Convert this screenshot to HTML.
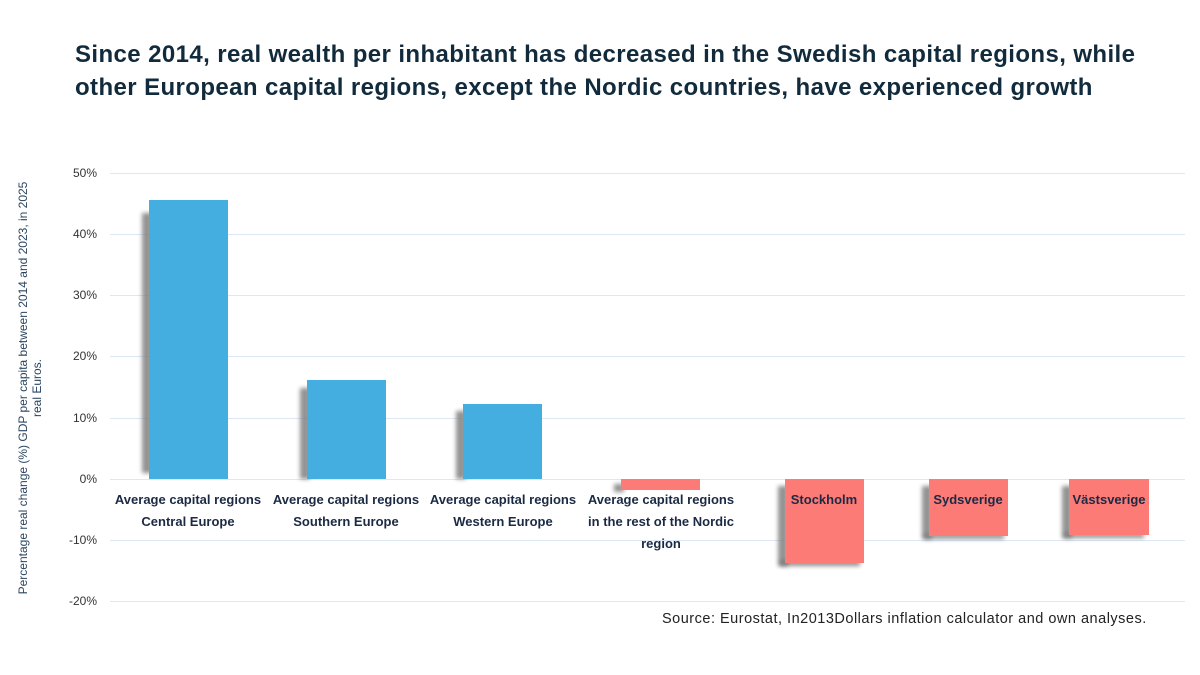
<!DOCTYPE html>
<html><head><meta charset="utf-8"><style>
body{margin:0;width:1200px;height:675px;background:#fff;position:relative;overflow:hidden;font-family:"Liberation Sans",sans-serif}
.t{position:absolute;left:75px;top:38px;font-size:24px;font-weight:bold;color:#112b3c;line-height:33px;letter-spacing:0.4px}
.g{position:absolute;left:110px;width:1075px;height:1px;background:#dce8f6}
.yl{position:absolute;width:60px;left:37px;text-align:right;font-size:12px;color:#333}
.b{position:absolute}
.s{position:absolute;background:#777;filter:blur(2px);opacity:.8}
.lb{position:absolute;width:170px;text-align:center;font-size:13px;font-weight:bold;color:#1b2a44;line-height:22px}
</style></head><body>
<div class="t">Since 2014, real wealth per inhabitant has decreased in the Swedish capital regions, while<br>other European capital regions, except the Nordic countries, have experienced growth</div>
<div class="g" style="top:173px"></div><div class="g" style="top:234px"></div><div class="g" style="top:295px"></div><div class="g" style="top:356px"></div><div class="g" style="top:418px"></div><div class="g" style="top:479px"></div><div class="g" style="top:540px"></div><div class="g" style="top:601px"></div>
<div class="yl" style="top:166px">50%</div><div class="yl" style="top:227px">40%</div><div class="yl" style="top:288px">30%</div><div class="yl" style="top:349px">20%</div><div class="yl" style="top:411px">10%</div><div class="yl" style="top:472px">0%</div><div class="yl" style="top:533px">-10%</div><div class="yl" style="top:594px">-20%</div>
<div style="position:absolute;left:30px;top:388px;width:480px;transform:translate(-50%,-50%) rotate(-90deg);text-align:center;font-size:12px;color:#2b4560;line-height:14px">Percentage real change (%) GDP per capita between 2014 and 2023, in 2025<br>real Euros.</div>
<div class="s" style="left:142px;top:213px;width:10px;height:260px"></div>
<div class="b" style="left:149px;top:200px;width:79px;height:279px;background:#45aee0"></div>
<div class="s" style="left:300px;top:388px;width:10px;height:91px"></div>
<div class="b" style="left:307px;top:380px;width:79px;height:99px;background:#45aee0"></div>
<div class="s" style="left:456px;top:411px;width:10px;height:68px"></div>
<div class="b" style="left:463px;top:404px;width:79px;height:75px;background:#45aee0"></div>
<div class="s" style="left:614px;top:484px;width:10px;height:8px"></div>
<div class="b" style="left:621px;top:479px;width:79px;height:11px;background:#fd7b76"></div>
<div class="s" style="left:778px;top:486px;width:10px;height:80px"></div><div class="s" style="left:780px;top:560px;width:80px;height:6px"></div>
<div class="b" style="left:785px;top:479px;width:79px;height:84px;background:#fd7b76"></div>
<div class="s" style="left:922px;top:486px;width:10px;height:53px"></div><div class="s" style="left:924px;top:534px;width:80px;height:5px"></div>
<div class="b" style="left:929px;top:479px;width:79px;height:57px;background:#fd7b76"></div>
<div class="s" style="left:1062px;top:486px;width:10px;height:52px"></div><div class="s" style="left:1064px;top:533px;width:80px;height:5px"></div>
<div class="b" style="left:1069px;top:479px;width:80px;height:56px;background:#fd7b76"></div>
<div class="lb" style="left:103px;top:489px">Average capital regions<br>Central Europe</div>
<div class="lb" style="left:261px;top:489px">Average capital regions<br>Southern Europe</div>
<div class="lb" style="left:418px;top:489px">Average capital regions<br>Western Europe</div>
<div class="lb" style="left:576px;top:489px">Average capital regions<br>in the rest of the Nordic<br>region</div>
<div class="lb" style="left:739px;top:489px">Stockholm</div>
<div class="lb" style="left:883px;top:489px">Sydsverige</div>
<div class="lb" style="left:1024px;top:489px">Västsverige</div>
<div style="position:absolute;left:662px;top:611px;font-size:14.5px;letter-spacing:0.5px;color:#222">Source: Eurostat, In2013Dollars inflation calculator and own analyses.</div>
</body></html>
